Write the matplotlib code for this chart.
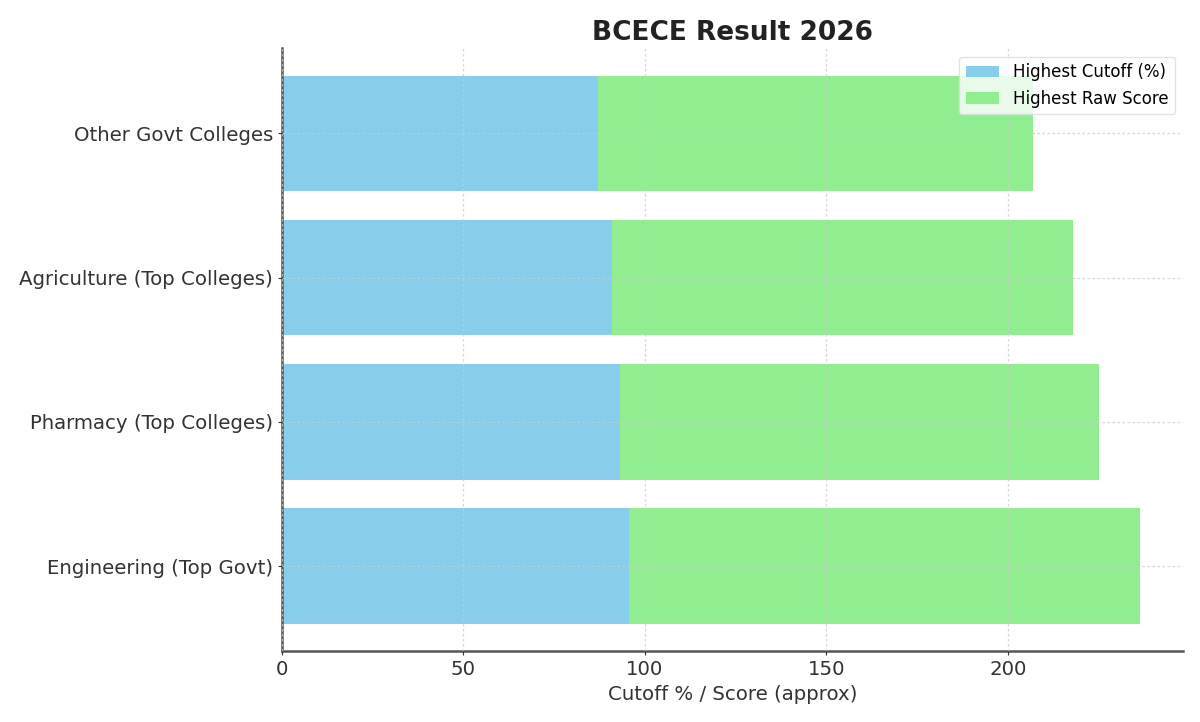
import numpy as np
import matplotlib
matplotlib.use('Agg')
import matplotlib.pyplot as plt


# data
categories = ['Engineering (Top Govt)', 'Pharmacy (Top Colleges)',
              'Agriculture (Top Colleges)', 'Other Govt Colleges']
cutoff = [95.5, 93, 91, 87]
raw_score = [141, 132, 127, 120]


fig, ax = plt.subplots(figsize=(12, 7.22), dpi=100)

ax.barh(categories, cutoff, color='skyblue', label='Highest Cutoff (%)')
ax.barh(categories, raw_score, left=cutoff, color='lightgreen',
        label='Highest Raw Score')

ax.set_title('BCECE Result 2026', fontsize=19, fontweight='bold', color='#222222')
ax.set_xlabel('Cutoff % / Score (approx)', fontsize=14.2, color='#333333')
ax.tick_params(axis='both', labelsize=14.2, colors='#333333', length=3)

ax.grid(True, linestyle=(0, (2, 2)), color='#cccccc', alpha=0.8, linewidth=0.9)
ax.set_axisbelow(False)
for s in ['top', 'right']:
    ax.spines[s].set_visible(False)
for s in ['left', 'bottom']:
    ax.spines[s].set_color('#555555')
    ax.spines[s].set_linewidth(1.8)

ax.legend(loc='upper right', fontsize=12, framealpha=0.8, edgecolor='#dddddd')

fig.subplots_adjust(left=0.235, right=0.986, top=0.933, bottom=0.098)
fig.savefig('out.png', dpi=100)
